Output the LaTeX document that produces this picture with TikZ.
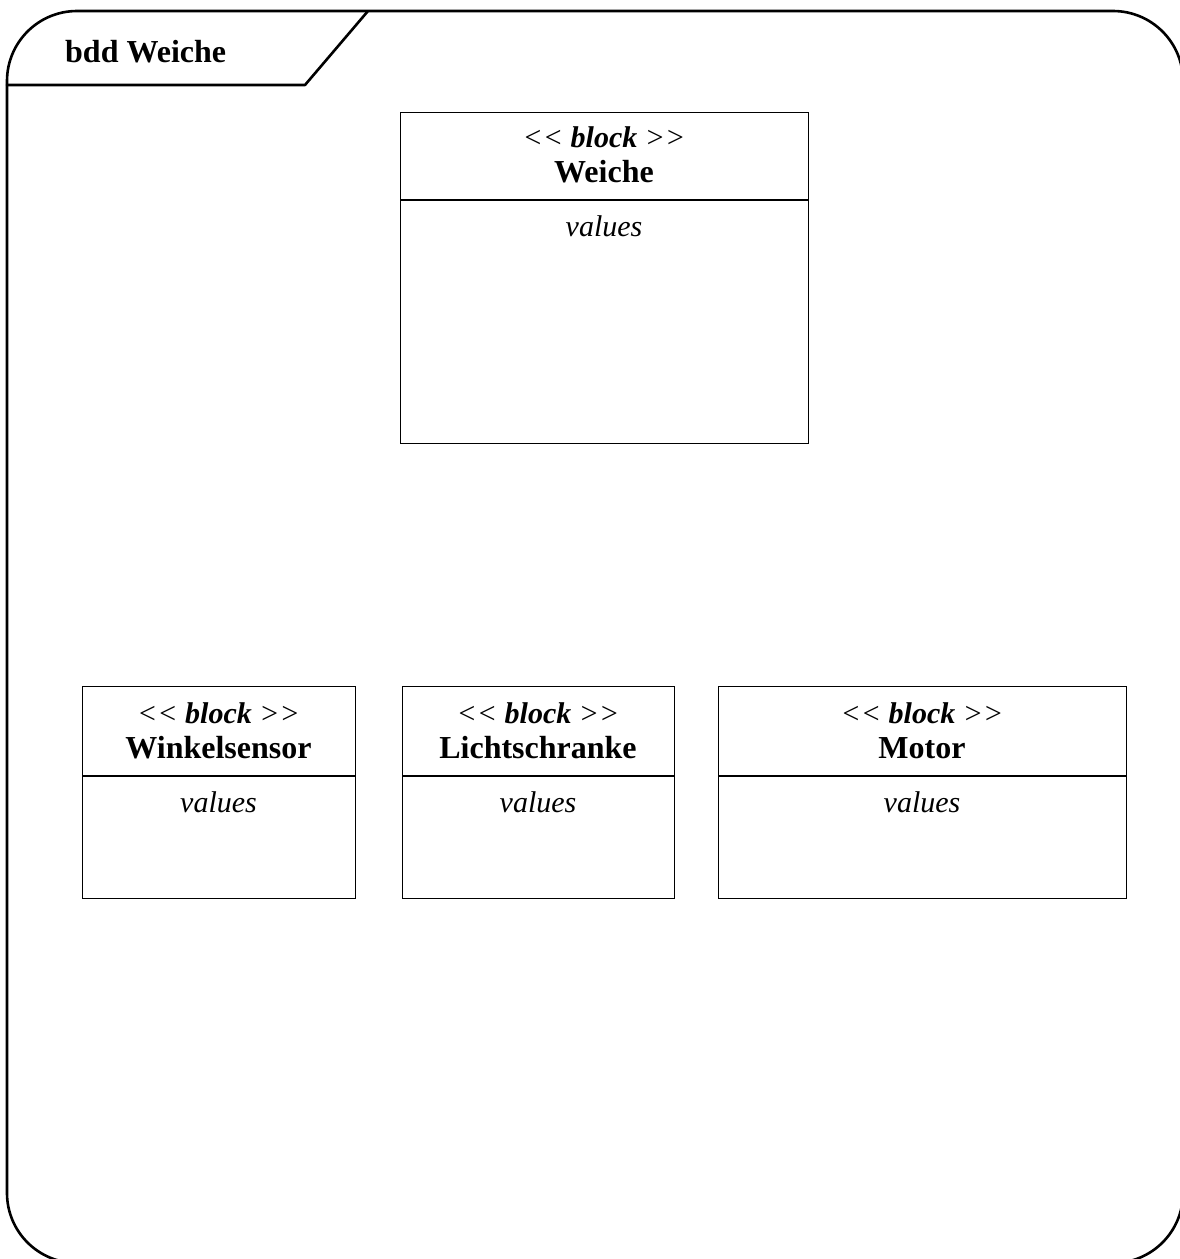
\documentclass[tikz,border=0pt]{standalone}
\usepackage{fontspec}
\setmainfont[Ligatures=NoCommon]{Liberation Serif}
\newcommand{\stereo}{\itshape <{}< \textbf{block} >{}>}
\begin{document}
\begin{tikzpicture}[x=1pt,y=-1pt,
  frame/.style={line width=2.6pt, line join=round},
  blk/.style={draw, line width=1.2pt, rectangle, inner sep=0pt, anchor=north west},
  divider/.style={line width=2pt},
  txt/.style={anchor=base, inner sep=0pt, font=\fontsize{30}{36}\selectfont},
  bold/.style={anchor=base, inner sep=0pt, font=\fontsize{32}{38}\selectfont\bfseries}
]
\useasboundingbox (0,0) rectangle (1180,1259);
% frame
\draw[frame, rounded corners=70pt] (7,600) -- (7,11) -- (1183,11) -- (1183,1263) -- (7,1263) -- cycle;
\coordinate (tabA) at (7,85);
\coordinate (tabB) at (305,85);
\coordinate (tabC) at (368,11);
\draw[frame, line cap=round] (tabA) -- (tabB) -- (tabC);
\node[bold, anchor=base west] (title) at (65,62) {bdd Weiche};

% Weiche
\node[blk, minimum width=408pt, minimum height=331pt] (weiche) at (400,112) {};
\coordinate (wd1) at (400,200); \coordinate (wd2) at (808,200);
\draw[divider] (wd1) -- (wd2);
\node[txt] (weiche-st) at (604,147) {\stereo};
\node[bold] (weiche-nm) at (604,182) {Weiche};
\node[txt] (weiche-val) at (604,236) {\itshape values};

% Winkelsensor
\node[blk, minimum width=273pt, minimum height=212pt] (wink) at (82,686) {};
\coordinate (kd1) at (82,776); \coordinate (kd2) at (355,776);
\draw[divider] (kd1) -- (kd2);
\node[txt] (wink-st) at (218.5,723) {\stereo};
\node[bold] (wink-nm) at (218.5,758) {Winkelsensor};
\node[txt] (wink-val) at (218.5,812) {\itshape values};

% Lichtschranke
\node[blk, minimum width=272pt, minimum height=212pt] (licht) at (402,686) {};
\coordinate (ld1) at (402,776); \coordinate (ld2) at (674,776);
\draw[divider] (ld1) -- (ld2);
\node[txt] (licht-st) at (538,723) {\stereo};
\node[bold] (licht-nm) at (538,758) {Lichtschranke};
\node[txt] (licht-val) at (538,812) {\itshape values};

% Motor
\node[blk, minimum width=408pt, minimum height=212pt] (motor) at (718,686) {};
\coordinate (md1) at (718,776); \coordinate (md2) at (1126,776);
\draw[divider] (md1) -- (md2);
\node[txt] (motor-st) at (922,723) {\stereo};
\node[bold] (motor-nm) at (922,758) {Motor};
\node[txt] (motor-val) at (922,812) {\itshape values};
\end{tikzpicture}
\end{document}
